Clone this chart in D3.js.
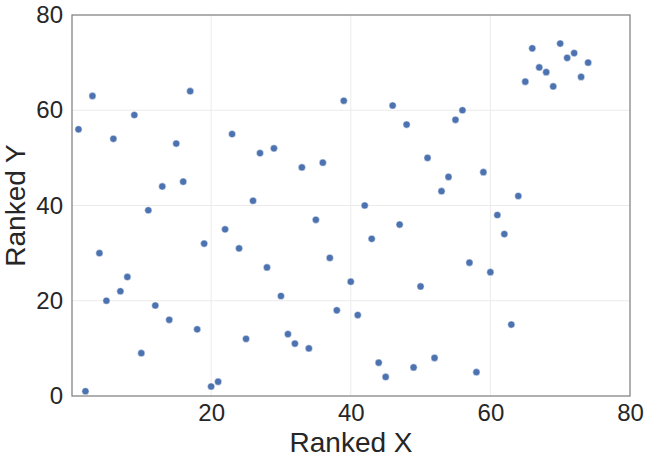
<!DOCTYPE html>
<html>
<head>
<meta charset="utf-8">
<script src="https://cdn.jsdelivr.net/npm/d3@7"></script>
<style>
  body { margin: 0; background: #fff; }
  svg text { font-family: "Liberation Sans", Arial, sans-serif; fill: #262626; }
</style>
</head>
<body>
<div id="chart"></div>
<script>
// ranked values
var rankX = [1, 2, 3, 4, 5, 6, 7, 8, 9, 10, 11, 12, 13, 14, 15, 16, 17, 18, 19, 20,
  21, 22, 23, 24, 25, 26, 27, 28, 29, 30, 31, 32, 33, 34, 35, 36, 37, 38, 39, 40,
  41, 42, 43, 44, 45, 46, 47, 48, 49, 50, 51, 52, 53, 54, 55, 56, 57, 58, 59, 60,
  61, 62, 63, 64, 65, 66, 67, 68, 69, 70, 71, 72, 73, 74];
var rankY = [56, 1, 63, 30, 20, 54, 22, 25, 59, 9, 39, 19, 44, 16, 53, 45, 64, 14, 32, 2,
  3, 35, 55, 31, 12, 41, 51, 27, 52, 21, 13, 11, 48, 10, 37, 49, 29, 18, 62, 24,
  17, 40, 33, 7, 4, 61, 36, 57, 6, 23, 50, 8, 43, 46, 58, 60, 28, 5, 47, 26,
  38, 34, 15, 42, 66, 73, 69, 68, 65, 74, 71, 72, 67, 70];
var xTicks = [20, 40, 60, 80];
var yTicks = [0, 20, 40, 60, 80];

var width = 651, height = 463;
var margin = {top: 15, right: 21, bottom: 67, left: 72};

var svg = d3.select('#chart')
  .append('svg')
  .attr('width', width)
  .attr('height', height);

var x = d3.scaleLinear().domain([0.07, 80]).range([margin.left, width - margin.right]);
var y = d3.scaleLinear().domain([0, 80]).range([height - margin.bottom, margin.top]);

// grid
svg.append('g').selectAll('line.gx')
  .data(xTicks.slice(0, 3))
  .enter().append('line')
  .attr('x1', function(d){ return x(d); })
  .attr('x2', function(d){ return x(d); })
  .attr('y1', margin.top)
  .attr('y2', height - margin.bottom)
  .attr('stroke', '#ebebeb')
  .attr('stroke-width', 1);

svg.append('g').selectAll('line.gy')
  .data(yTicks.slice(1, 4))
  .enter().append('line')
  .attr('y1', function(d){ return y(d); })
  .attr('y2', function(d){ return y(d); })
  .attr('x1', margin.left)
  .attr('x2', width - margin.right)
  .attr('stroke', '#ebebeb')
  .attr('stroke-width', 1);

// axes (labels only, frame drawn below)
var xAxis = svg.append('g')
  .attr('transform', 'translate(0,' + (height - margin.bottom) + ')')
  .call(d3.axisBottom(x).tickValues(xTicks).tickSize(0).tickPadding(8));
xAxis.select('.domain').remove();
xAxis.selectAll('text').attr('font-size', 24).attr('fill', '#262626')
  .style('font-family', '"Liberation Sans", Arial, sans-serif');

var yAxis = svg.append('g')
  .attr('transform', 'translate(' + margin.left + ',0)')
  .call(d3.axisLeft(y).tickValues(yTicks).tickSize(0).tickPadding(9));
yAxis.select('.domain').remove();
yAxis.selectAll('text').attr('font-size', 24).attr('fill', '#262626')
  .style('font-family', '"Liberation Sans", Arial, sans-serif');

// frame
svg.append('rect')
  .attr('x', margin.left)
  .attr('y', margin.top)
  .attr('width', width - margin.left - margin.right)
  .attr('height', height - margin.top - margin.bottom)
  .attr('fill', 'none')
  .attr('stroke', '#808080')
  .attr('stroke-width', 1.25);

// points
svg.append('g').selectAll('circle')
  .data(rankX)
  .enter().append('circle')
  .attr('cx', function(d){ return x(d); })
  .attr('cy', function(d, i){ return y(rankY[i]); })
  .attr('r', 3.6)
  .attr('fill', '#4c72b0')
  .attr('stroke', '#ffffff')
  .attr('stroke-width', 0.5);

// axis titles
svg.append('text')
  .attr('x', (margin.left + width - margin.right) / 2)
  .attr('y', 452)
  .attr('text-anchor', 'middle')
  .attr('font-size', 28)
  .text('Ranked X');

svg.append('text')
  .attr('transform', 'translate(25,' + ((margin.top + height - margin.bottom) / 2) + ') rotate(-90)')
  .attr('text-anchor', 'middle')
  .attr('font-size', 28)
  .text('Ranked Y');
</script>
</body>
</html>
